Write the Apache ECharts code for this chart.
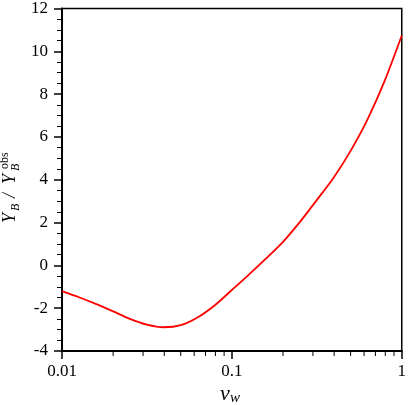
<!DOCTYPE html>
<html lang="en">
<head>
<meta charset="UTF-8" />
<script src="https://cdn.jsdelivr.net/npm/echarts@6/dist/echarts.min.js"></script>
<style>
  html, body { margin: 0; padding: 0; background: #fff; }
  #main { width: 409px; height: 405px; }
</style>
</head>
<body>
<div id="main"></div>
<script>
// wall velocity v_w (log scale) and the ratio Y_B / Y_B^obs
var vw = [0.01, 0.0126, 0.0158, 0.02, 0.0251, 0.0316, 0.0398, 0.0501, 0.0631, 0.0794,
          0.1, 0.126, 0.158, 0.2, 0.251, 0.316, 0.398, 0.501, 0.631, 0.794, 1.0];
var ratio = [-1.20, -1.49, -1.80, -2.15, -2.50, -2.77, -2.89, -2.79, -2.42, -1.86,
             -1.15, -0.43, 0.30, 1.10, 2.02, 3.05, 4.11, 5.36, 6.84, 8.63, 10.74];

// log-axis minor ticks (2..9 of each decade)
var minorX = [0.02, 0.03, 0.04, 0.05, 0.06, 0.07, 0.08, 0.09,
              0.2, 0.3, 0.4, 0.5, 0.6, 0.7, 0.8, 0.9];

var yMin = -4, yMax = 12;
var serif = 'Liberation Serif';

var lineData = vw.map(function (x, i) { return [x, ratio[i]]; });
var tickData = minorX.map(function (x) { return [x, yMin]; });

var chart = echarts.init(document.getElementById('main'));
chart.setOption({
  animation: false,
  grid: {
    left: 62, right: 4, top: 8, bottom: 54,
    show: true, borderColor: '#000', borderWidth: 1.5
  },
  xAxis: {
    type: 'log',
    logBase: 10,
    min: 0.01,
    max: 1,
    axisLine: { onZero: false, lineStyle: { color: '#000', width: 2 } },
    axisTick: { length: 8, lineStyle: { color: '#000', width: 1.5 } },
    axisLabel: { color: '#000', fontSize: 17, fontFamily: serif, margin: 12 },
    splitLine: { show: false }
  },
  yAxis: {
    type: 'value',
    min: yMin,
    max: yMax,
    interval: 2,
    axisLine: { show: true, lineStyle: { color: '#000', width: 2 } },
    axisTick: { show: true, length: 8, lineStyle: { color: '#000', width: 1.5 } },
    minorTick: { show: true, splitNumber: 4, length: 5, lineStyle: { color: '#000', width: 1 } },
    axisLabel: { color: '#000', fontSize: 17, fontFamily: serif, margin: 14 },
    splitLine: { show: false }
  },
  series: [
    {
      type: 'line',
      data: lineData,
      smooth: 0.3,
      showSymbol: false,
      lineStyle: { color: '#ff0000', width: 1.8 },
      z: 3
    },
    {
      type: 'custom',
      data: tickData,
      clip: false,
      silent: true,
      z: 4,
      renderItem: function (params, api) {
        var p = api.coord([api.value(0), api.value(1)]);
        return {
          type: 'line',
          shape: { x1: p[0], y1: p[1], x2: p[0], y2: p[1] + 5 },
          style: { stroke: '#000', lineWidth: 1 }
        };
      }
    }
  ],
  graphic: [
    {
      // y-axis title Y_B / Y_B^obs, rotated
      type: 'group',
      x: 15, y: 223,
      rotation: Math.PI / 2,
      children: [
        { type: 'text', x: 0, y: -5, style: { text: 'Y', font: 'italic 18px ' + serif, fill: '#000', verticalAlign: 'middle' } },
        { type: 'text', x: 12, y: 0.5, style: { text: 'B', font: 'italic 12px ' + serif, fill: '#000', verticalAlign: 'middle' } },
        { type: 'text', x: 25, y: -5, style: { text: '/', font: 'italic 18px ' + serif, fill: '#000', verticalAlign: 'middle' } },
        { type: 'text', x: 39, y: -5, style: { text: 'Y', font: 'italic 18px ' + serif, fill: '#000', verticalAlign: 'middle' } },
        { type: 'text', x: 54, y: -10.5, style: { text: 'obs', font: '12px ' + serif, fill: '#000', verticalAlign: 'middle' } },
        { type: 'text', x: 52, y: 0.5, style: { text: 'B', font: 'italic 12px ' + serif, fill: '#000', verticalAlign: 'middle' } }
      ]
    },
    {
      // x-axis title v_w
      type: 'group',
      x: 220, y: 400,
      children: [
        { type: 'text', x: 0, y: -6, style: { text: 'v', font: 'italic 22px ' + serif, fill: '#000', verticalAlign: 'middle' } },
        { type: 'text', x: 10, y: -2, style: { text: 'w', font: 'italic 15px ' + serif, fill: '#000', verticalAlign: 'middle' } }
      ]
    }
  ]
});
</script>
</body>
</html>
